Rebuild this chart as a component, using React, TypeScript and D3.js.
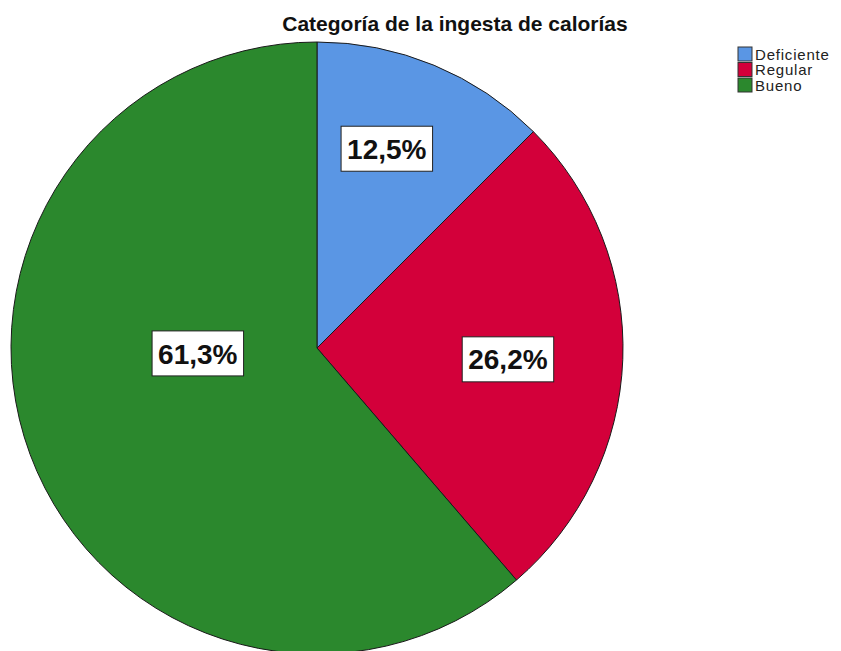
import React, { useEffect, useRef } from "react";
import * as d3 from "d3";

const categories = ["Deficiente", "Regular", "Bueno"];
const percentages = [12.5, 26.2, 61.3];
const labels = ["12,5%", "26,2%", "61,3%"];
const colors = ["#5a96e4", "#d3003a", "#2b882d"];
const title = "Categoría de la ingesta de calorías";

// label placement: angle (deg, clockwise from top) and radius fraction
const labelAngle = [19.3, 93.4, 267.4];
const labelRadius = [0.69, 0.625, 0.39];

const W = 841;
const H = 651;

export default function App() {
  const ref = useRef<SVGSVGElement | null>(null);

  useEffect(() => {
    const svg = d3.select(ref.current);
    svg.selectAll("*").remove();

    const cx = 317;
    const cy = 348;
    const r = 306;

    svg.append("rect").attr("width", W).attr("height", H).attr("fill", "#ffffff");

    const data = categories.map((c, i) => ({ c, v: percentages[i], i }));
    const pie = d3
      .pie<any>()
      .value((d) => d.v)
      .sort(null);
    const arcs = pie(data);
    const arc = d3.arc<any>().innerRadius(0).outerRadius(r);

    const g = svg.append("g").attr("transform", `translate(${cx},${cy})`);
    g.selectAll("path.slice")
      .data(arcs)
      .enter()
      .append("path")
      .attr("class", "slice")
      .attr("d", arc)
      .attr("fill", (d: any) => colors[d.data.i])
      .attr("stroke", "#1a1a1a")
      .attr("stroke-width", 1);

    // labels
    arcs.forEach((a: any, i: number) => {
      const ang = (labelAngle[i] * Math.PI) / 180;
      const lr = labelRadius[i] * r;
      const x = Math.sin(ang) * lr;
      const y = -Math.cos(ang) * lr;
      const lg = g.append("g").attr("transform", `translate(${x},${y})`);
      const t = lg
        .append("text")
        .attr("text-anchor", "middle")
        .attr("dy", "0.36em")
        .attr("font-family", "Liberation Sans, Arial, sans-serif")
        .attr("font-weight", "bold")
        .attr("font-size", 28)
        .attr("fill", "#111")
        .text(labels[i]);
      const bb = (t.node() as SVGTextElement).getBBox();
      const padX = 6;
      lg.insert("rect", "text")
        .attr("x", bb.x - padX)
        .attr("y", -22.5)
        .attr("width", bb.width + padX * 2)
        .attr("height", 45)
        .attr("fill", "#ffffff")
        .attr("stroke", "#222")
        .attr("stroke-width", 1);
    });

    // title
    svg
      .append("text")
      .attr("x", 455)
      .attr("y", 31)
      .attr("text-anchor", "middle")
      .attr("font-family", "Liberation Sans, Arial, sans-serif")
      .attr("font-weight", "bold")
      .attr("font-size", 21)
      .attr("fill", "#111")
      .text(title);

    // legend
    const leg = svg.append("g").attr("transform", "translate(738,47)");
    categories.forEach((c, i) => {
      const row = leg.append("g").attr("transform", `translate(0,${i * 15.5})`);
      row
        .append("rect")
        .attr("width", 14)
        .attr("height", 14)
        .attr("fill", colors[i])
        .attr("stroke", "#333")
        .attr("stroke-width", 1);
      row
        .append("text")
        .attr("x", 17)
        .attr("y", 12.5)
        .attr("font-family", "Liberation Sans, Arial, sans-serif")
        .attr("font-size", 15)
        .attr("letter-spacing", 0.8)
        .attr("fill", "#222")
        .text(c);
    });
  }, []);

  return (
    <svg
      ref={ref}
      width={W}
      height={H}
      style={{ position: "absolute", left: 0, top: 0, display: "block" }}
    />
  );
}
